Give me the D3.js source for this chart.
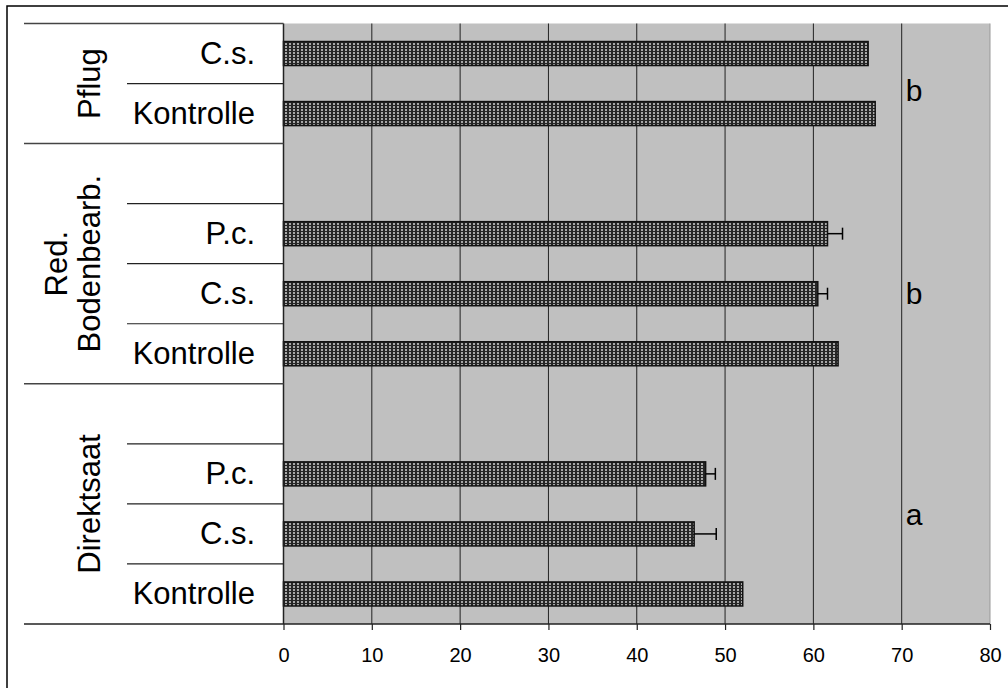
<!DOCTYPE html>
<html>
<head>
<meta charset="utf-8">
<script src="https://cdn.jsdelivr.net/npm/d3@7"></script>
<style>
  body { margin: 0; background: #fff; }
  svg { display: block; font-family: "Liberation Sans", Arial, sans-serif; }
</style>
</head>
<body>
<figure id="chart" style="margin:0"></figure>
<script>
// groups (top to bottom) and their rows
const groups = ["Pflug", "Red. Bodenbearb.", "Direktsaat"];
const groupRows = [[0, 2], [2, 6], [6, 10]];
const rowLabels = ["C.s.", "Kontrolle", "", "P.c.", "C.s.", "Kontrolle", "", "P.c.", "C.s.", "Kontrolle"];
const values = [66.2, 67.0, null, 61.6, 60.5, 62.8, null, 47.8, 46.5, 52.0];
const errors = [null, null, null, 1.7, 1.1, null, null, 1.1, 2.5, null];
const letters = ["b", "b", "a"];
const xTicks = [0, 10, 20, 30, 40, 50, 60, 70, 80];

const width = 1008, height = 688;
const plot = { left: 283.5, right: 990, top: 23.5, bottom: 624 };
const letterRowPos = [1.12, 4.5, 8.17];

const svg = d3.select("#chart").append("svg")
  .attr("width", width)
  .attr("height", height);

const defs = svg.append("defs");
const pat = defs.append("pattern")
  .attr("id", "dots")
  .attr("patternUnits", "userSpaceOnUse")
  .attr("width", 4)
  .attr("height", 3);
pat.append("rect").attr("width", 4).attr("height", 3).attr("fill", "#262626");
pat.append("rect").attr("x", 1).attr("y", 1).attr("width", 2).attr("height", 2).attr("fill", "#a8a8a8");

const x = d3.scaleLinear().domain([0, 80]).range([plot.left, plot.right]);
const row = d3.scaleLinear().domain([0, rowLabels.length]).range([plot.top, plot.bottom]);
const bandH = row(1) - row(0);
const barH = bandH * 0.4;

// outer frame (only top/left visible in the picture)
svg.append("rect")
  .attr("x", 7).attr("y", 6)
  .attr("width", width + 10).attr("height", height + 10)
  .attr("fill", "none").attr("stroke", "#000").attr("stroke-width", 1.5);

// plot background
svg.append("rect")
  .attr("x", plot.left).attr("y", plot.top)
  .attr("width", plot.right - plot.left).attr("height", plot.bottom - plot.top)
  .attr("fill", "#c0c0c0");

// gridlines
svg.append("g").selectAll("line")
  .data(xTicks.filter(t => t > 0 && t < 80))
  .join("line")
  .attr("x1", d => x(d)).attr("x2", d => x(d))
  .attr("y1", plot.top).attr("y2", plot.bottom)
  .attr("stroke", "#222").attr("stroke-width", 1);

svg.append("line")
  .attr("x1", plot.right).attr("x2", plot.right)
  .attr("y1", plot.top).attr("y2", plot.bottom)
  .attr("stroke", "#999").attr("stroke-width", 1);

// bars
const rows = rowLabels.map((label, i) => ({ i, label, value: values[i], err: errors[i] }));
const barRows = rows.filter(d => d.value != null);

svg.append("g").selectAll("rect")
  .data(barRows)
  .join("rect")
  .attr("x", x(0))
  .attr("y", d => row(d.i) + (bandH - barH) / 2)
  .attr("width", d => x(d.value) - x(0))
  .attr("height", barH)
  .attr("fill", "url(#dots)")
  .attr("stroke", "#111")
  .attr("stroke-width", 1.5);

// error bars
const errG = svg.append("g").selectAll("g")
  .data(barRows.filter(d => d.err != null))
  .join("g")
  .attr("stroke", "#000")
  .attr("stroke-width", 1.5);
errG.append("line")
  .attr("x1", d => x(d.value)).attr("x2", d => x(d.value + d.err))
  .attr("y1", d => row(d.i) + bandH / 2).attr("y2", d => row(d.i) + bandH / 2);
errG.append("line")
  .attr("x1", d => x(d.value + d.err)).attr("x2", d => x(d.value + d.err))
  .attr("y1", d => row(d.i) + bandH / 2 - 6).attr("y2", d => row(d.i) + bandH / 2 + 6);

// significance letters
svg.append("g").selectAll("text")
  .data(letters)
  .join("text")
  .attr("x", x(70) + 4)
  .attr("y", (d, i) => row(letterRowPos[i]))
  .attr("dominant-baseline", "central")
  .style("font-size", "30px")
  .text(d => d);

// left axis line
svg.append("line")
  .attr("x1", plot.left).attr("x2", plot.left)
  .attr("y1", plot.top).attr("y2", plot.bottom)
  .attr("stroke", "#222").attr("stroke-width", 1.5);

// row separators in the label area
const groupEdges = [0, ...groupRows.map(g => g[1])];
const innerEdges = d3.range(1, rowLabels.length).filter(i => !groupEdges.includes(i));

svg.append("g").selectAll("line")
  .data(groupEdges.filter(i => i < rowLabels.length))
  .join("line")
  .attr("x1", 24).attr("x2", plot.left)
  .attr("y1", d => row(d)).attr("y2", d => row(d))
  .attr("stroke", "#444").attr("stroke-width", 1.5);

svg.append("g").selectAll("line")
  .data(innerEdges)
  .join("line")
  .attr("x1", 127).attr("x2", plot.left)
  .attr("y1", d => row(d)).attr("y2", d => row(d))
  .attr("stroke", "#222").attr("stroke-width", 1.2);

// row labels
svg.append("g").selectAll("text")
  .data(rows.filter(d => d.label))
  .join("text")
  .attr("x", 255)
  .attr("y", d => row(d.i) + bandH / 2)
  .attr("text-anchor", "end")
  .attr("dominant-baseline", "central")
  .style("font-size", "31px")
  .text(d => d.label);

// group labels, rotated
groups.forEach((name, gi) => {
  const cy = row((groupRows[gi][0] + groupRows[gi][1]) / 2);
  const lines = name.split(" ");
  const lineH = 33;
  const lastBaseline = 100;
  lines.forEach((ln, li) => {
    const bx = lastBaseline - (lines.length - 1 - li) * lineH;
    svg.append("text")
      .attr("transform", `translate(${bx},${cy}) rotate(-90)`)
      .attr("text-anchor", "middle")
      .style("font-size", "31px")
      .text(ln);
  });
});

// bottom axis
const axis = svg.append("g")
  .attr("transform", `translate(0,${plot.bottom})`)
  .call(d3.axisBottom(x).tickValues(xTicks).tickSize(6).tickFormat(d3.format("d")));
axis.select(".domain").remove();
axis.selectAll(".tick line").attr("stroke", "#222").attr("stroke-width", 1.2);
axis.selectAll(".tick text")
  .attr("y", 38).attr("dy", 0)
  .attr("fill", "#000")
  .style("font-size", "20px")
  .style("font-family", "'Liberation Sans', Arial, sans-serif");

svg.append("line")
  .attr("x1", 24).attr("x2", plot.right)
  .attr("y1", plot.bottom).attr("y2", plot.bottom)
  .attr("stroke", "#222").attr("stroke-width", 1.5);
</script>
</body>
</html>
